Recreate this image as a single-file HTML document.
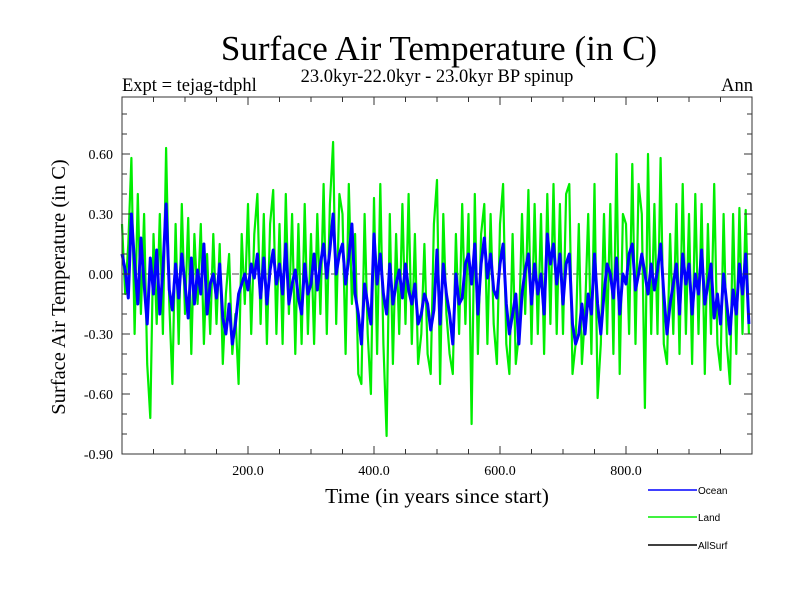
<!DOCTYPE html>
<html><head><meta charset="utf-8">
<style>
body{margin:0;background:#fff;}
svg{display:block;font-family:"Liberation Serif",serif;}
</style></head>
<body>
<svg id="chart" width="800" height="600" xmlns="http://www.w3.org/2000/svg">
<rect width="800" height="600" fill="#fff"/>
<text x="439" y="60" font-size="35" text-anchor="middle">Surface Air Temperature (in C)</text>
<text x="437" y="82" font-size="18.5" text-anchor="middle">23.0kyr-22.0kyr - 23.0kyr BP spinup</text>
<text x="122" y="91" font-size="18.5">Expt = tejag-tdphl</text>
<text x="753" y="91" font-size="18.5" text-anchor="end">Ann</text>
<text transform="translate(65,287) rotate(-90)" font-size="20.5" text-anchor="middle">Surface Air Temperature (in C)</text>
<text x="437" y="503" font-size="21.5" text-anchor="middle">Time (in years since start)</text>
<g id="plot"></g>
<g id="axes"></g>
<g font-family="Liberation Sans, sans-serif" font-size="10">
<g><line x1="648" y1="490" x2="697" y2="490" stroke="#0000ff" stroke-width="1.5"/><text x="698" y="494">Ocean</text></g>
<g><line x1="648" y1="517" x2="697" y2="517" stroke="#00ee00" stroke-width="1.5"/><text x="698" y="521">Land</text></g>
<g><line x1="648" y1="545" x2="697" y2="545" stroke="#000" stroke-width="1.5"/><text x="698" y="549">AllSurf</text></g>
</g>
</svg>
<script>
const years = Array.from({length:200},(_, i)=>i*5);
const ocean = [
0.10,0.02,-0.12,0.30,0.05,-0.15,0.18,-0.05,-0.25,0.08,
-0.10,0.12,-0.20,0.02,0.35,-0.08,-0.18,0.05,-0.12,0.10,
-0.05,-0.22,0.08,-0.15,0.02,-0.10,0.15,-0.20,-0.05,0.00,
-0.12,0.05,-0.22,-0.30,-0.15,-0.35,-0.25,-0.10,-0.05,0.00,
-0.08,0.05,-0.02,0.10,-0.12,0.08,-0.15,0.02,0.12,-0.05,
0.05,-0.10,0.15,-0.15,-0.05,0.02,-0.12,-0.20,0.05,-0.10,
-0.05,0.10,-0.08,0.05,0.15,-0.02,0.12,0.30,0.00,0.10,
0.15,-0.05,0.08,0.25,-0.10,-0.20,-0.35,-0.05,-0.15,-0.25,
0.20,-0.05,0.10,-0.10,-0.20,0.05,-0.15,-0.05,0.02,-0.12,
0.05,-0.08,-0.15,-0.05,-0.25,-0.20,-0.10,-0.15,-0.28,-0.18,
0.12,-0.25,0.05,-0.10,-0.20,-0.35,0.00,-0.15,-0.12,0.05,
0.10,-0.05,0.15,-0.20,0.05,0.18,-0.02,0.10,-0.08,-0.12,
0.05,0.15,-0.15,-0.30,-0.20,-0.10,-0.35,-0.10,0.02,0.10,
-0.15,0.05,-0.10,0.00,-0.20,0.20,0.05,0.15,-0.05,0.10,
-0.15,0.05,0.10,-0.25,-0.35,-0.30,-0.15,-0.30,-0.10,-0.20,
0.10,-0.15,-0.30,-0.10,0.05,0.00,-0.12,0.08,-0.20,0.00,
-0.05,0.10,0.15,-0.08,0.00,0.10,0.00,-0.10,0.05,-0.08,
0.02,0.15,-0.10,-0.30,-0.15,-0.05,0.05,-0.20,0.10,-0.05,
0.05,-0.20,0.00,-0.10,0.12,-0.15,-0.05,0.05,-0.22,-0.10,
-0.25,0.00,-0.15,-0.30,-0.08,-0.20,0.05,-0.10,0.10,-0.25];
const land = [
0.25,-0.10,0.15,0.58,-0.30,0.40,-0.20,0.30,-0.45,-0.72,
0.20,-0.25,0.30,-0.30,0.63,-0.15,-0.55,0.25,-0.35,0.35,
-0.20,0.28,-0.40,0.20,-0.15,0.25,-0.35,0.10,-0.30,0.20,
-0.25,0.15,-0.45,-0.10,0.10,-0.40,-0.20,-0.55,0.20,-0.15,
0.35,-0.30,0.20,0.40,-0.25,0.30,-0.35,0.25,0.42,-0.30,
0.25,-0.35,0.40,-0.20,0.30,-0.40,0.25,-0.35,0.35,-0.30,
0.20,-0.35,0.30,-0.20,0.45,-0.30,0.35,0.66,-0.25,0.40,
0.30,-0.40,0.45,-0.15,0.20,-0.50,-0.55,0.30,-0.30,-0.60,
0.38,-0.40,0.45,-0.35,-0.81,0.30,-0.45,0.20,-0.30,0.35,
-0.25,0.40,-0.35,0.20,-0.45,-0.30,0.15,-0.40,-0.50,0.25,
0.47,-0.55,0.30,-0.20,-0.40,-0.50,0.20,-0.30,0.35,-0.25,
0.30,-0.75,0.40,-0.40,0.20,0.35,-0.35,0.30,-0.25,-0.45,
0.25,0.45,-0.35,-0.50,0.20,-0.45,-0.30,0.30,-0.20,0.42,
-0.35,0.35,-0.30,0.30,-0.40,0.40,-0.25,0.45,-0.30,0.35,
-0.30,0.40,0.45,-0.50,-0.35,0.25,-0.45,-0.20,0.30,-0.40,
0.45,-0.62,-0.35,0.30,-0.30,0.35,-0.40,0.60,-0.50,0.30,
0.25,-0.30,0.55,-0.35,0.45,0.30,-0.67,0.60,-0.30,0.35,
-0.30,0.58,-0.35,-0.45,0.20,-0.30,0.35,-0.40,0.45,-0.30,
0.30,-0.45,0.40,-0.30,0.35,-0.50,0.25,-0.30,0.45,-0.35,
-0.48,0.30,-0.35,-0.55,0.30,-0.40,0.33,-0.30,0.32,-0.30];
const yTicks = [-0.90,-0.60,-0.30,0.00,0.30,0.60];
const yTickLabels = ["-0.90","-0.60","-0.30","0.00","0.30","0.60"];
const xTicks = [200,400,600,800];
const xTickLabels = ["200.0","400.0","600.0","800.0"];

const X0=122,X1=752,Y0=454,YT=97;
const xs = v => X0 + v*(X1-X0)/1000;
const ys = v => 274 - v*200;
const NS="http://www.w3.org/2000/svg";
function mk(tag,attrs,parent){const e=document.createElementNS(NS,tag);for(const k in attrs)e.setAttribute(k,attrs[k]);parent.appendChild(e);return e;}
const plot=document.getElementById('plot'), axes=document.getElementById('axes');

const zl=mk('line',{x1:X0,x2:X1,y1:ys(0),y2:ys(0),stroke:'#888','stroke-width':1.5,'stroke-dasharray':'7,4'},plot);



function series(vals,color,w,name){
  const d=vals.map((v,i)=>(i?'L':'M')+xs(years[i]).toFixed(1)+','+ys(v).toFixed(1)).join('');
  const p=mk('path',{d:d,fill:'none',stroke:color,'stroke-width':w,'stroke-linejoin':'round'},plot);
  
  
}
series(land,'#00ee00',2.2,'land-series');
series(ocean,'#0000ff',3,'ocean-series');

const frame=mk('rect',{x:X0,y:YT,width:X1-X0,height:Y0-YT,fill:'none',stroke:'#333','stroke-width':1},axes);



for(let v=50;v<1000;v+=50){
  const major=v%200===0, L=major?8:5;
  mk('line',{x1:xs(v),x2:xs(v),y1:Y0,y2:Y0-L,stroke:'#333'},axes);
  mk('line',{x1:xs(v),x2:xs(v),y1:YT,y2:YT+L,stroke:'#333'},axes);
}
for(let k=-9;k<=8;k++){
  const v=k/10, major=(k%3===0), L=major?8:5;
  mk('line',{x1:X0,x2:X0+L,y1:ys(v),y2:ys(v),stroke:'#333'},axes);
  mk('line',{x1:X1,x2:X1-L,y1:ys(v),y2:ys(v),stroke:'#333'},axes);
}
yTicks.forEach((v,i)=>{
  const t=mk('text',{x:113,y:ys(v)+5,'font-size':14,'text-anchor':'end'},axes);
  t.textContent=yTickLabels[i];
  
  
});
xTicks.forEach((v,i)=>{
  const t=mk('text',{x:xs(v),y:475,'font-size':14,'text-anchor':'middle'},axes);
  t.textContent=xTickLabels[i];
  
  
});
</script>
</body></html>
